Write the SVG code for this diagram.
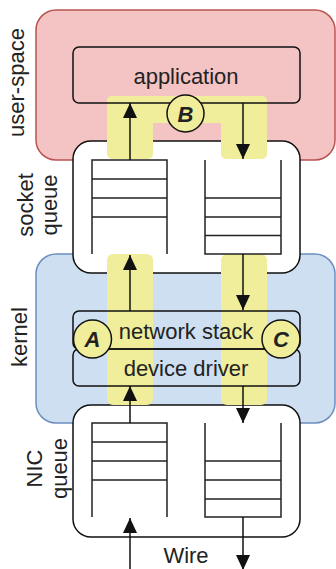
<svg xmlns="http://www.w3.org/2000/svg" width="336" height="569" viewBox="0 0 336 569">
<defs>
<style>
.lbl{font-family:"Liberation Sans",Arial,sans-serif;font-size:22px;fill:#222;text-anchor:middle}
.box{fill:none;stroke:#111;stroke-width:1.5}
.qbox{fill:#fff;stroke:#111;stroke-width:1.5}
.hl{fill:#f0ee9b;stroke:none}
.stk{fill:none;stroke:#222;stroke-width:1.5}
.arr{fill:none;stroke:#111;stroke-width:1.5;marker-end:url(#ah)}
.circ{fill:#f0ee9b;stroke:#111;stroke-width:1.5}
.ct{font-family:"Liberation Sans",Arial,sans-serif;font-size:22px;font-weight:bold;font-style:italic;fill:#222;text-anchor:middle}
</style>
<marker id="ah" markerUnits="userSpaceOnUse" markerWidth="15" markerHeight="14" refX="15" refY="7" orient="auto">
<path d="M0,0 L15,7 L0,14 z" fill="#111"/>
</marker>
</defs>
<g id="user-space">
<rect x="36" y="10" width="299" height="150" rx="20" fill="#f4c3c3" stroke="#b85450" stroke-width="1.5"/>
<text class="lbl" transform="translate(24,82.5) rotate(-90)">user-space</text>
</g>
<g id="kernel">
<rect x="36" y="254" width="299" height="169" rx="20" fill="#cddff1" stroke="#6c8ebf" stroke-width="1.5"/>
<text class="lbl" transform="translate(26.5,337) rotate(-90)">kernel</text>
</g>
<g id="socket-queue">
<rect class="qbox" x="73" y="141" width="227" height="132" rx="18"/>
<text class="lbl" transform="translate(33.3,205) rotate(-90)">socket</text>
<text class="lbl" transform="translate(56.5,205) rotate(-90)">queue</text>
</g>
<g id="nic-queue">
<rect class="qbox" x="73" y="405" width="227" height="132" rx="18"/>
<text class="lbl" transform="translate(41.5,468.5) rotate(-90)">NIC</text>
<text class="lbl" transform="translate(66.5,468.5) rotate(-90)">queue</text>
</g>
<g id="highlights">
<rect class="hl" x="107" y="96" width="160" height="27" rx="5"/>
<rect class="hl" x="107" y="96" width="46" height="63" rx="5"/>
<rect class="hl" x="221" y="96" width="46" height="63" rx="5"/>
<rect class="hl" x="107" y="254" width="46" height="151" rx="6"/>
<rect class="hl" x="221" y="254" width="46" height="151" rx="6"/>
</g>
<g id="application">
<rect class="box" x="73" y="47" width="227" height="56" rx="6"/>
<text class="lbl" x="186" y="83.5">application</text>
</g>
<g id="network-stack">
<rect class="box" x="73" y="311" width="227" height="38" rx="6"/>
<text class="lbl" x="186" y="338.5">network stack</text>
</g>
<g id="device-driver">
<rect class="box" x="73" y="349" width="227" height="37" rx="6"/>
<text class="lbl" x="186" y="376">device driver</text>
</g>
<g id="stacks">
<path class="stk" d="M92,254 V160 H167 V254 M92,179 H167 M92,198 H167 M92,217 H167"/>
<path class="stk" d="M205,160 V254 H281 V160 M205,198 H281 M205,217 H281 M205,235.5 H281"/>
<path class="stk" d="M92,517 V423 H167 V517 M92,442 H167 M92,461 H167 M92,480 H167"/>
<path class="stk" d="M205,423 V517 H281 V423 M205,461 H281 M205,480 H281 M205,499 H281"/>
</g>
<g id="connectors">
<line class="arr" x1="130" y1="160" x2="130" y2="103"/>
<line class="arr" x1="243" y1="103" x2="243" y2="159"/>
<line class="arr" x1="130" y1="311" x2="130" y2="255"/>
<line class="arr" x1="243" y1="254" x2="243" y2="310"/>
<line class="arr" x1="130" y1="423" x2="130" y2="386"/>
<line class="arr" x1="243" y1="386" x2="243" y2="423"/>
<line class="arr" x1="130" y1="569" x2="130" y2="518"/>
<line class="arr" x1="243" y1="517" x2="243" y2="570"/>
</g>
<g id="wire">
<text class="lbl" x="186" y="563">Wire</text>
</g>
<g id="circle-B">
<circle class="circ" cx="185.5" cy="113.5" r="18.5"/>
<text class="ct" x="185.5" y="121.5">B</text>
</g>
<g id="circle-A">
<circle class="circ" cx="92.5" cy="339" r="19"/>
<text class="ct" x="92.5" y="347">A</text>
</g>
<g id="circle-C">
<circle class="circ" cx="281" cy="339" r="19"/>
<text class="ct" x="281" y="347">C</text>
</g>
</svg>
